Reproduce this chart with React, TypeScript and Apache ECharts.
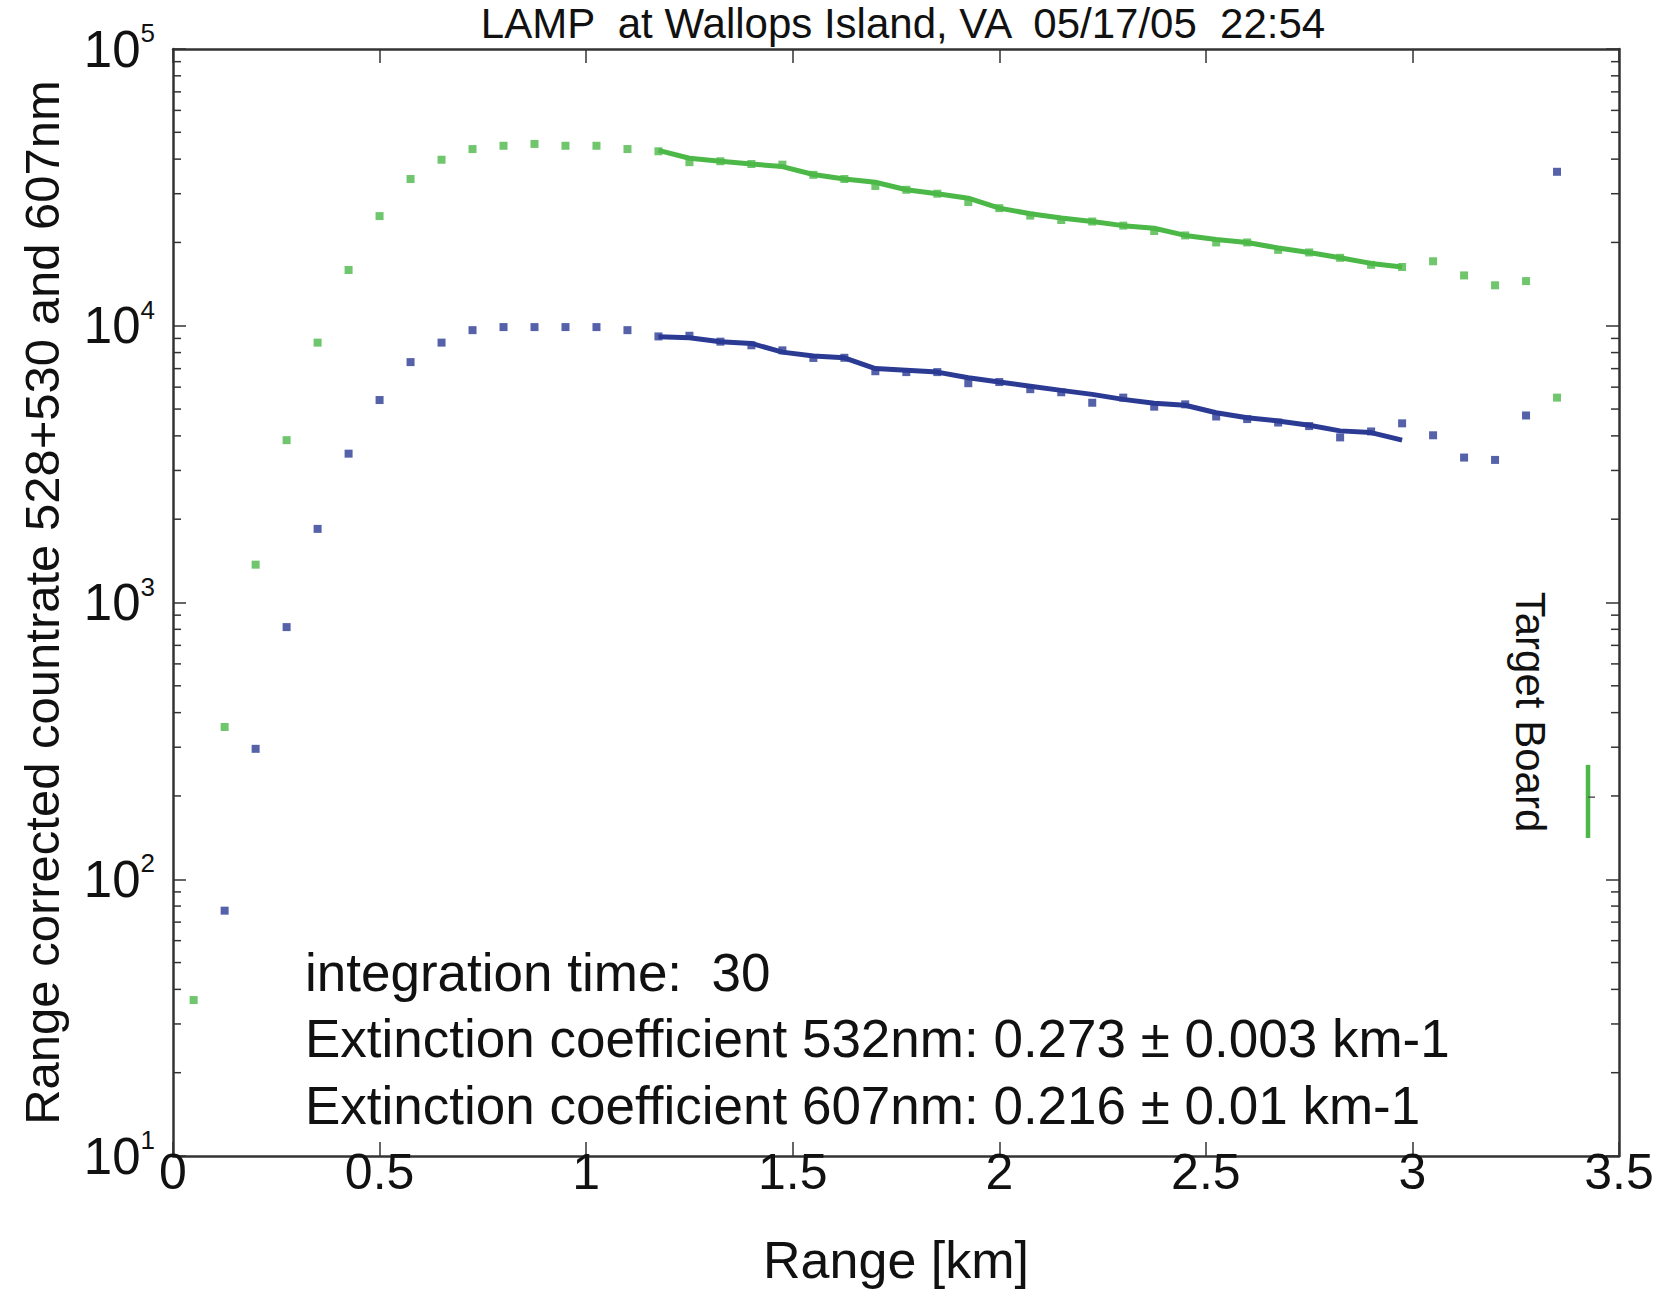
import React, { useEffect, useRef } from "react";
import * as echarts from "echarts";

const FONT = '"Liberation Sans", Arial, Helvetica, sans-serif';
const GREEN = "#4cb848";
const BLUE = "#2b3b94";

const titleText = "LAMP  at Wallops Island, VA  05/17/05  22:54";
const xAxisName = "Range [km]";
const yAxisName = "Range corrected countrate 528+530 and 607nm";
const notes = [
  "integration time:  30",
  "Extinction coefficient 532nm: 0.273 \u00b1 0.003 km-1",
  "Extinction coefficient 607nm: 0.216 \u00b1 0.01 km-1",
];
const targetLabel = "Target Board";

// sampled ranges of the markers (km)
const dotRange = [
  0.05, 0.125, 0.2, 0.275, 0.35, 0.425, 0.5, 0.575, 0.65, 0.725, 0.8, 0.875,
  0.95, 1.025, 1.1, 1.175, 1.25, 1.325, 1.4, 1.475, 1.55, 1.625, 1.7, 1.775,
  1.85, 1.925, 2.0, 2.075, 2.15, 2.225, 2.3, 2.375, 2.45, 2.525, 2.6, 2.675,
  2.75, 2.825, 2.9, 2.975, 3.05, 3.125, 3.2, 3.275, 3.35,
];
const greenDots = [
  36.6, 355, 1370, 3860, 8690, 15900, 24900, 33900, 39800, 43500, 44700, 45400,
  44700, 44700, 43500, 42700, 39000, 39300, 38400, 38200, 35100, 33900, 32000, 31000,
  30000, 28000, 26600, 25000, 24100, 23800, 23000, 22000, 21200, 20000, 20000, 18800,
  18400, 17600, 16600, 16300, 17100, 15200, 14000, 14500, 5500,
];
const blueRange = dotRange.slice(1);
const blueDots = [
  77, 296, 815, 1845, 3450, 5390, 7390, 8690, 9640, 9890, 9890,
  9890, 9890, 9640, 9150, 9200, 8760, 8500, 8150, 7650, 7660, 6850, 6800,
  6800, 6200, 6260, 5900, 5750, 5270, 5500, 5100, 5200, 4700, 4600, 4470,
  4340, 3950, 4150, 4440, 4020, 3340, 3275, 4740, 36000,
];

// fitted/continuous profile between 1.175 and 2.975 km
const lineRange = [
  1.175, 1.25, 1.325, 1.4, 1.475, 1.55, 1.625, 1.7, 1.775, 1.85, 1.925, 2.0,
  2.075, 2.15, 2.225, 2.3, 2.375, 2.45, 2.525, 2.6, 2.675, 2.75, 2.825, 2.9, 2.975,
];
const greenLine = [
  43000, 40300, 39300, 38400, 37600, 35200, 33900, 33000, 31000, 30000, 28900, 26600,
  25400, 24500, 23800, 23000, 22500, 21200, 20500, 20000, 19100, 18400, 17600, 16800, 16300,
];
const blueLine = [
  9120, 9050, 8760, 8630, 8030, 7770, 7660, 7000, 6900, 6800, 6490, 6260,
  6050, 5840, 5650, 5420, 5250, 5160, 4850, 4650, 4530, 4370, 4170, 4110, 3860,
];

// target board return: [range, low, high, centre]
const targetBoard = [3.425, 141, 259, 198];

const minorMultipliers = [2, 3, 4, 5, 6, 7, 8, 9];
const decades = [10, 100, 1000, 10000];

export default function App() {
  const ref = useRef<HTMLDivElement>(null);

  useEffect(() => {
    if (!ref.current) return;
    const chart = echarts.init(ref.current, null, { renderer: "svg" });

    const minorTicks: number[][] = [];
    decades.forEach((d) => minorMultipliers.forEach((m) => minorTicks.push([0, d * m])));

    const axisLine = { show: true, onZero: false, lineStyle: { color: "#333", width: 2.5 } };
    const tickStyle = { color: "#333", width: 1.5 };

    const option: any = {
      animation: false,
      backgroundColor: "#ffffff",
      grid: { left: 173, right: 47, top: 49, bottom: 133, containLabel: false },
      xAxis: [
        {
          type: "value",
          min: 0,
          max: 3.5,
          interval: 0.5,
          position: "bottom",
          axisLine,
          axisTick: { inside: true, length: 14, lineStyle: tickStyle },
          axisLabel: { fontSize: 50, color: "#111", fontFamily: FONT, margin: -9 },
          splitLine: { show: false },
          name: xAxisName,
          nameLocation: "middle",
          nameGap: 78,
          nameTextStyle: { fontSize: 52, color: "#111", fontFamily: FONT },
        },
        {
          type: "value",
          min: 0,
          max: 3.5,
          interval: 0.5,
          position: "top",
          axisLine,
          axisTick: { inside: true, length: 14, lineStyle: tickStyle },
          axisLabel: { show: false },
          splitLine: { show: false },
        },
      ],
      yAxis: [
        {
          type: "log",
          logBase: 10,
          min: 10,
          max: 100000,
          position: "left",
          axisLine,
          axisTick: { inside: true, length: 13, lineStyle: tickStyle },
          axisLabel: {
            margin: 18,
            formatter: (v: number) => `{b|10}{s|${Math.round(Math.log10(v))}}`,
            rich: {
              b: { fontSize: 51, lineHeight: 58, color: "#111", fontFamily: FONT },
              s: { fontSize: 26, lineHeight: 26, verticalAlign: "top", color: "#111", fontFamily: FONT },
            },
          },
          splitLine: { show: false },
          name: yAxisName,
          nameLocation: "middle",
          nameGap: 107,
          nameTextStyle: { fontSize: 49, color: "#111", fontFamily: FONT },
        },
        {
          type: "log",
          logBase: 10,
          min: 10,
          max: 100000,
          position: "right",
          axisLine,
          axisTick: { inside: true, length: 13, lineStyle: tickStyle },
          axisLabel: { show: false },
          splitLine: { show: false },
        },
      ],
      series: [
        {
          type: "custom",
          name: "minor ticks",
          silent: true,
          clip: false,
          data: minorTicks,
          renderItem: (_p: any, api: any) => {
            const v = api.value(1);
            const l = api.coord([0, v]);
            const r = api.coord([3.5, v]);
            return {
              type: "group",
              children: [
                { type: "line", shape: { x1: l[0], y1: l[1], x2: l[0] + 8, y2: l[1] }, style: { stroke: "#333", lineWidth: 1.5 } },
                { type: "line", shape: { x1: r[0], y1: r[1], x2: r[0] - 8, y2: r[1] }, style: { stroke: "#333", lineWidth: 1.5 } },
              ],
            };
          },
        },
        {
          type: "line",
          name: "532 profile",
          data: lineRange.map((x, i) => [x, greenLine[i]]),
          showSymbol: false,
          lineStyle: { color: GREEN, width: 5 },
          z: 3,
        },
        {
          type: "line",
          name: "607 profile",
          data: lineRange.map((x, i) => [x, blueLine[i]]),
          showSymbol: false,
          lineStyle: { color: BLUE, width: 5 },
          z: 3,
        },
        {
          type: "scatter",
          name: "532",
          symbol: "rect",
          symbolSize: 8,
          data: dotRange.map((x, i) => [x, greenDots[i]]),
          itemStyle: { color: GREEN },
          z: 4,
        },
        {
          type: "scatter",
          name: "607",
          symbol: "rect",
          symbolSize: 8,
          data: blueRange.map((x, i) => [x, blueDots[i]]),
          itemStyle: { color: BLUE },
          z: 4,
        },
        {
          type: "custom",
          name: "target board",
          silent: true,
          data: [targetBoard],
          renderItem: (_p: any, api: any) => {
            const x = api.value(0);
            const lo = api.coord([x, api.value(1)]);
            const hi = api.coord([x, api.value(2)]);
            const c = api.coord([x, api.value(3)]);
            return {
              type: "group",
              children: [
                { type: "line", shape: { x1: lo[0], y1: lo[1], x2: hi[0], y2: hi[1] }, style: { stroke: GREEN, lineWidth: 4.5 } },
                { type: "line", shape: { x1: c[0], y1: c[1], x2: c[0] + 7, y2: c[1] }, style: { stroke: "#555", lineWidth: 1.5 } },
              ],
            };
          },
          z: 4,
        },
      ],
      graphic: [
        {
          type: "text",
          x: 903,
          y: 2,
          style: { text: titleText, fontSize: 42, fontFamily: FONT, fill: "#111", align: "center", verticalAlign: "top" },
        },
        ...notes.map((t, i) => ({
          type: "text",
          x: 305,
          y: [972, 1038, 1105][i],
          style: { text: t, fontSize: 53, fontFamily: FONT, fill: "#111", align: "left", verticalAlign: "middle" },
        })),
        {
          type: "text",
          x: 1530,
          y: 712,
          rotation: -Math.PI / 2,
          style: { text: targetLabel, fontSize: 42, fontFamily: FONT, fill: "#111", align: "center", verticalAlign: "middle" },
        },
      ],
    };

    chart.setOption(option);
    return () => chart.dispose();
  }, []);

  return (
    <div
      ref={ref}
      style={{ position: "fixed", left: 0, top: 0, width: 1666, height: 1291, background: "#fff" }}
    />
  );
}
